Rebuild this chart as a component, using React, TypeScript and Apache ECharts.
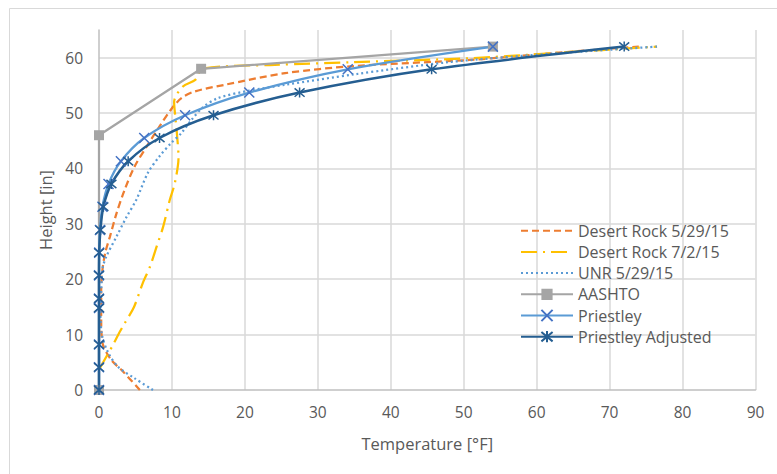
import React, { useEffect, useRef } from "react";
import * as echarts from "echarts";

const seriesNames = [
  "Desert Rock 5/29/15",
  "Desert Rock 7/2/15",
  "UNR 5/29/15",
  "AASHTO",
  "Priestley",
  "Priestley Adjusted",
];

const dr529Temp = [5.6, 3.1, 1.7, 0.5, 0.3, 0.3, 0.5, 0.9, 1.5, 2.4, 3.5, 4.9, 6.7, 8.3, 9.9, 11.3, 13.1, 17.2, 25.5, 35, 50.8, 62, 74];
const dr529Height = [0, 3.6, 5.4, 8.4, 13, 18, 22, 25, 27.7, 31.9, 36.1, 40.4, 44.3, 47.6, 50.7, 52.7, 53.9, 55.1, 57.2, 58.5, 59.6, 60.8, 62];

const dr72Temp = [0.1, 1.0, 1.9, 2.6, 3.5, 4.8, 6.0, 7.0, 7.9, 8.8, 9.7, 10.4, 10.9, 10.7, 10.5, 10.3, 11.5, 13.2, 14.2, 24.1, 35, 50.8, 62, 76.5];
const dr72Height = [3.9, 6.0, 8.1, 9.9, 12, 15, 19.3, 22.3, 25.9, 29.5, 34.3, 37.4, 42, 46, 48.8, 52, 54.8, 56, 58.0, 58.7, 59.2, 59.9, 60.8, 62];

const unrTemp = [7.4, 4.9, 2.6, 1.2, 0.4, 0.2, 0.3, 0.5, 1.0, 2.4, 3.8, 5.1, 6.7, 8.3, 9.9, 11.3, 12.7, 14.3, 16.3, 20, 25.5, 35, 48, 61.8, 76.5];
const unrHeight = [0, 2.1, 4.2, 6.9, 10, 14, 18, 22, 24.1, 27.7, 31.3, 34.3, 39.2, 42.2, 44.6, 46.4, 48.8, 51.1, 52.7, 53.9, 55.1, 57.0, 59.2, 60.7, 62];

const aashtoTemp = [0, 0, 14, 54];
const aashtoHeight = [0, 46, 58, 62];

const priestleyHeight = [62, 57.9, 53.7, 49.6, 45.5, 41.3, 37.2, 33.1, 28.9, 24.8, 20.7, 16.5, 14.8, 8.2, 4.1, 0];
const priestleyTemp = [54, 34.1, 20.6, 11.8, 6.2, 3.0, 1.3, 0.47, 0.13, 0.02, 0, 0, 0, 0, 0, 0];
const priestleyAdjTemp = [72, 45.6, 27.5, 15.7, 8.3, 4.0, 1.7, 0.6, 0.2, 0.03, 0, 0, 0, 0, 0, 0];

const xTicks = { min: 0, max: 90, interval: 10 };
const yTicks = { min: 0, max: 65, interval: 10 };

const pair = (xs: number[], ys: number[]) => xs.map((x, i) => [x, ys[i]]);

const FONT = "'Open Sans', sans-serif";
const TEXT = "#595959";
const X_SYMBOL = "path://M0,0L10,10M10,0L0,10";
const STAR_SYMBOL = "path://M0,0L10,10M10,0L0,10M5,-1L5,11";

export default function App() {
  const ref = useRef<HTMLDivElement>(null);
  useEffect(() => {
    if (!ref.current) return;
    const chart = echarts.init(ref.current, null, { renderer: "svg" });
    chart.setOption({
      animation: false,
      backgroundColor: "#ffffff",
      textStyle: { fontFamily: FONT, color: TEXT },
      graphic: [
        { type: "line", shape: { x1: 9.5, y1: 8.5, x2: 800, y2: 8.5 }, style: { stroke: "#d9d9d9", lineWidth: 1 } },
        { type: "line", shape: { x1: 9.5, y1: 8.5, x2: 9.5, y2: 500 }, style: { stroke: "#d9d9d9", lineWidth: 1 } },
      ],
      grid: { left: 99, right: 21.5, top: 30, bottom: 84, containLabel: false },
      legend: {
        orient: "vertical",
        left: 520,
        top: 222.7,
        itemWidth: 52,
        itemHeight: 14,
        itemGap: 5.2,
        padding: 0,
        textStyle: { fontFamily: FONT, fontSize: 16, color: TEXT },
        data: seriesNames.map((n, i) =>
          i < 3 ? { name: n, itemStyle: { opacity: 0 } } : { name: n }
        ),
      },
      xAxis: {
        type: "value",
        ...xTicks,
        name: "Temperature [°F]",
        nameLocation: "middle",
        nameGap: 45,
        nameTextStyle: { fontFamily: FONT, fontSize: 16.5, color: TEXT },
        axisLine: { show: true, onZero: false, lineStyle: { color: "#bfbfbf", width: 1.5 } },
        axisTick: { show: false },
        axisLabel: { fontFamily: FONT, fontSize: 15.5, color: TEXT, margin: 14 },
        splitLine: { show: true, showMinLine: false, lineStyle: { color: "#d9d9d9", width: 1.5 } },
      },
      yAxis: {
        type: "value",
        ...yTicks,
        name: "Height [in]",
        nameLocation: "middle",
        nameGap: 44,
        nameTextStyle: { fontFamily: FONT, fontSize: 16.5, color: TEXT },
        axisLine: { show: true, onZero: false, lineStyle: { color: "#bfbfbf", width: 1.5 } },
        axisTick: { show: false },
        axisLabel: { fontFamily: FONT, fontSize: 15.5, color: TEXT, margin: 16, showMaxLabel: false },
        splitLine: { show: true, showMinLine: false, showMaxLine: false, lineStyle: { color: "#d9d9d9", width: 1.5 } },
      },
      series: [
        {
          name: seriesNames[0],
          type: "line",
          data: pair(dr529Temp, dr529Height),
          smooth: 0.3,
          symbol: "circle",
          showSymbol: false,
          color: "#ED7D31",
          lineStyle: { color: "#ED7D31", width: 2.25, type: [7, 4] },
        },
        {
          name: seriesNames[1],
          type: "line",
          data: pair(dr72Temp, dr72Height),
          smooth: 0.3,
          symbol: "circle",
          showSymbol: false,
          color: "#FFC000",
          lineStyle: { color: "#FFC000", width: 2.25, type: [16, 6, 2, 6] },
        },
        {
          name: seriesNames[2],
          type: "line",
          data: pair(unrTemp, unrHeight),
          smooth: 0.3,
          symbol: "circle",
          showSymbol: false,
          color: "#5B9BD5",
          lineStyle: { color: "#5B9BD5", width: 2.25, type: [2, 3] },
        },
        {
          name: seriesNames[3],
          type: "line",
          data: pair(aashtoTemp, aashtoHeight),
          smooth: false,
          symbol: "rect",
          symbolSize: 10,
          color: "#A5A5A5",
          itemStyle: { color: "#A5A5A5" },
          lineStyle: { color: "#A5A5A5", width: 2.25 },
        },
        {
          name: seriesNames[4],
          type: "line",
          data: pair(priestleyTemp, priestleyHeight),
          smooth: 0.3,
          symbol: X_SYMBOL,
          symbolSize: 10,
          color: "#5B9BD5",
          itemStyle: { color: "#4472C4", borderColor: "#4472C4", borderWidth: 1.5 },
          lineStyle: { color: "#5B9BD5", width: 2.25 },
        },
        {
          name: seriesNames[5],
          type: "line",
          data: pair(priestleyAdjTemp, priestleyHeight),
          smooth: 0.3,
          symbol: STAR_SYMBOL,
          symbolSize: 10,
          color: "#255E91",
          itemStyle: { color: "#255E91", borderColor: "#255E91", borderWidth: 1.5 },
          lineStyle: { color: "#255E91", width: 2.5 },
        },
      ],
    });
    return () => chart.dispose();
  }, []);
  return (
    <div
      ref={ref}
      style={{ position: "fixed", left: 0, top: 0, width: 777, height: 474, background: "#fff" }}
    />
  );
}
